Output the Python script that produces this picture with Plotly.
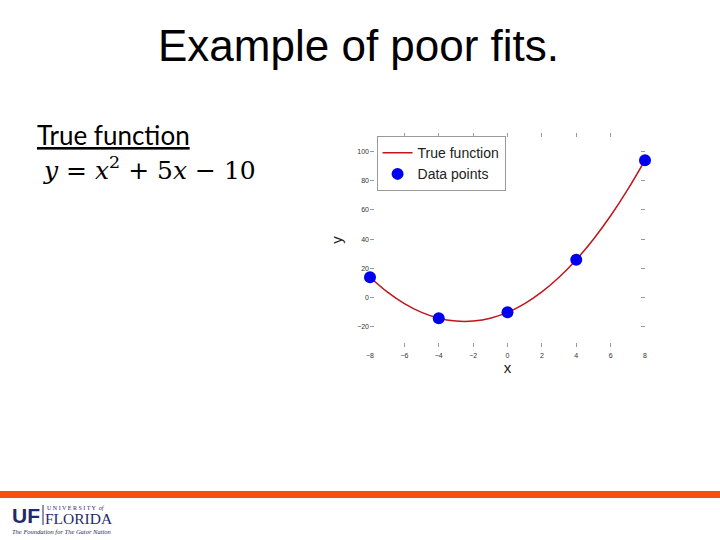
import plotly.graph_objects as go

# ---- data ----
curve_x = [-8, -7, -6, -5, -4, -3, -2.5, -2, -1, 0, 1, 2, 3, 4, 5, 6, 7, 8]
curve_y = [14, 4, -4, -10, -14, -16, -16.25, -16, -14, -10, -4, 4, 14, 26, 40, 56, 74, 94]
point_x = [-8, -4, 0, 4, 8]
point_y = [14, -14, -10, 26, 94]
x_ticks = [-8, -6, -4, -2, 0, 2, 4, 6, 8]
y_ticks = [-20, 0, 20, 40, 60, 80, 100]

fig = go.Figure()
fig.add_trace(go.Scatter(
    x=curve_x, y=curve_y, mode="lines", name="True function",
    line=dict(color="#C0141E", width=1.5, shape="spline"), cliponaxis=False,
))
fig.add_trace(go.Scatter(
    x=point_x, y=point_y, mode="markers", name="Data points",
    marker=dict(color="#0000F0", size=12), cliponaxis=False,
))

tick_font = dict(family="Liberation Sans, Arial", size=7, color="#333333")
fig.update_layout(
    width=720, height=540,
    margin=dict(l=0, r=0, t=0, b=0, pad=0, autoexpand=False),
    paper_bgcolor="white", plot_bgcolor="white",
    showlegend=True,
    legend=dict(
        x=0.523, y=0.748, xanchor="left", yanchor="top",
        bgcolor="white", bordercolor="#999999", borderwidth=1,
        font=dict(family="Liberation Sans, Arial", size=14, color="#222222"),
        tracegroupgap=0, itemwidth=30,
    ),
    xaxis=dict(
        domain=[370 / 720, 645 / 720], range=[-8, 8],
        tickvals=x_ticks, ticks="inside", ticklen=4, tickcolor="#999999",
        mirror="ticks", showline=False, showgrid=False, zeroline=False,
        tickfont=tick_font, ticklabelstandoff=3, automargin=False,
        title=dict(text="x", font=dict(family="Liberation Sans, Arial", size=15, color="#222222"), standoff=4),
    ),
    yaxis=dict(
        domain=[1 - 347 / 540, 1 - 133 / 540], range=[-33.7, 112.6],
        tickvals=y_ticks, ticks="inside", ticklen=4, tickcolor="#999999",
        mirror="ticks", showline=False, showgrid=False, zeroline=False,
        tickfont=tick_font, automargin=False,
        title=dict(text="y", font=dict(family="Liberation Sans, Arial", size=15, color="#222222"), standoff=10),
    ),
)

# Slide title
fig.add_annotation(
    x=358 / 720, y=1 - 45 / 540, xref="paper", yref="paper", showarrow=False,
    text="Example of poor fits.", xanchor="center", yanchor="middle",
    font=dict(family="Liberation Sans, Arial", size=44, color="black"),
)
# Left text
fig.add_annotation(
    x=35 / 720, y=1 - 135 / 540, xref="paper", yref="paper", showarrow=False,
    text="<u>True function</u>", xanchor="left", yanchor="middle",
    font=dict(family="Lato, Open Sans", size=26, color="black"),
)
fig.add_annotation(
    x=41 / 720, y=1 - 169 / 540, xref="paper", yref="paper", showarrow=False,
    text="<i>y</i> = <i>x</i><sup>2</sup> + 5<i>x</i> − 10", xanchor="left", yanchor="middle",
    font=dict(family="DejaVu Serif, Liberation Serif", size=25, color="black"),
)

# Bottom orange bar
fig.add_shape(type="rect", xref="paper", yref="paper",
              x0=0, x1=1, y0=1 - 498 / 540, y1=1 - 491 / 540,
              fillcolor="#F5500F", line=dict(width=0))
# Logo
fig.add_annotation(
    x=10 / 720, y=1 - 515 / 540, xref="paper", yref="paper", showarrow=False,
    text="<b>UF</b>", xanchor="left", yanchor="middle",
    font=dict(family="Liberation Sans, Arial", size=21, color="#1F2A6B"),
)
fig.add_shape(type="line", xref="paper", yref="paper",
              x0=43 / 720, x1=43 / 720, y0=1 - 525 / 540, y1=1 - 505 / 540,
              line=dict(color="#1F2A6B", width=1))
fig.add_annotation(
    x=45 / 720, y=1 - 508 / 540, xref="paper", yref="paper", showarrow=False,
    text="U N I V E R S I T Y  <i>of</i>", xanchor="left", yanchor="middle",
    font=dict(family="Liberation Serif", size=6, color="#1F2A6B"),
)
fig.add_annotation(
    x=43 / 720, y=1 - 518 / 540, xref="paper", yref="paper", showarrow=False,
    text="FLORIDA", xanchor="left", yanchor="middle",
    font=dict(family="Liberation Serif", size=15.5, color="#1F2A6B"),
)
fig.add_annotation(
    x=10 / 720, y=1 - 531 / 540, xref="paper", yref="paper", showarrow=False,
    text="<i>The Foundation for The Gator Nation</i>", xanchor="left", yanchor="middle",
    font=dict(family="Liberation Serif", size=6.5, color="#1F2A6B"),
)

fig.write_html("out.html", config={"displayModeBar": False},
               post_script="document.body.style.margin='0';")
